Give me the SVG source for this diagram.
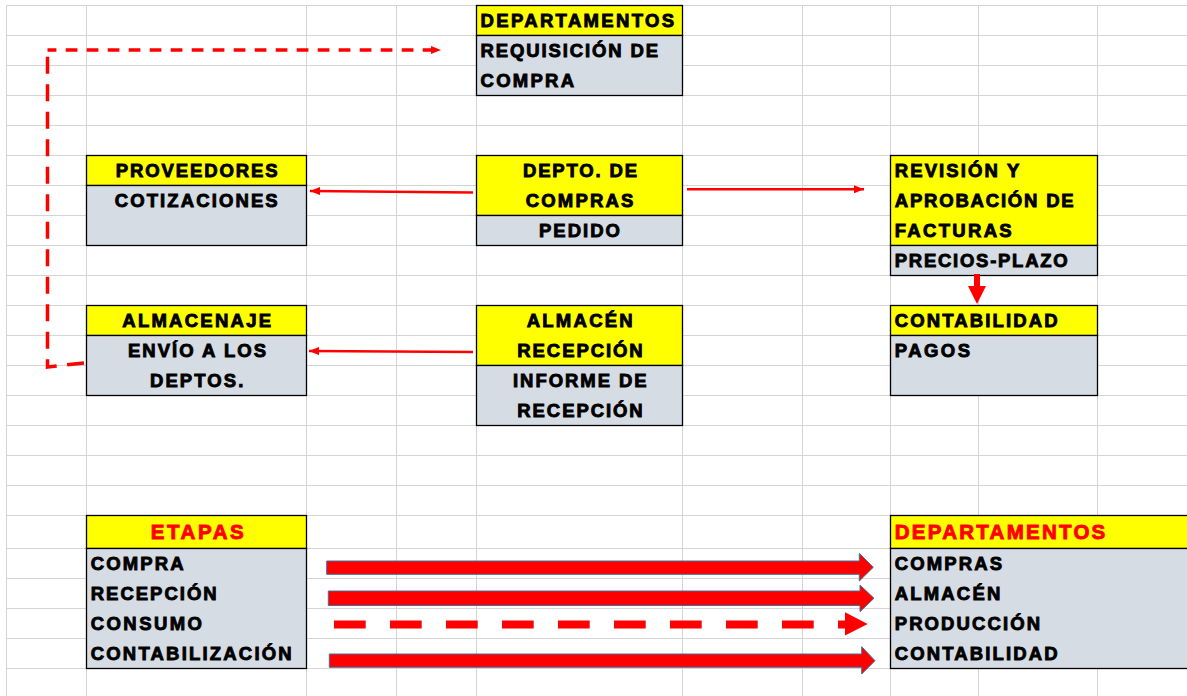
<svg xmlns="http://www.w3.org/2000/svg" width="1187" height="696" viewBox="0 0 1187 696">
<style>
.grid line{stroke:#d4d4d4;stroke-width:1}
.hdr{fill:#ffff00;stroke:#000;stroke-width:1.3}
.body{fill:#d6dce4;stroke:#000;stroke-width:1.3}
.t{font-family:"Liberation Sans",Arial,sans-serif;font-weight:bold;font-size:18.5px;fill:#000;stroke:#000;stroke-width:0.9}
.tr{font-family:"Liberation Sans",Arial,sans-serif;font-weight:bold;font-size:20.5px;fill:#ff0000;stroke:#ff0000;stroke-width:0.9}
.thin{fill:none;stroke:#ff0000;stroke-width:2.5}
.dash{fill:none;stroke:#ff0000;stroke-width:3.5}
.block{fill:#ff0000;stroke:#41719c;stroke-width:1}
</style>
<defs>
<marker id="ah" markerUnits="userSpaceOnUse" markerWidth="10" markerHeight="8" viewBox="0 0 10 8" refX="10" refY="4" orient="auto"><path d="M0,0 L10,4 L0,8 z" fill="#ff0000"/></marker>
</defs>
<rect width="1187" height="696" fill="#ffffff"/>
<g class="grid">
<line x1="6.5" y1="5.5" x2="6.5" y2="696"/><line x1="86.5" y1="5.5" x2="86.5" y2="696"/><line x1="306.5" y1="5.5" x2="306.5" y2="696"/><line x1="396.5" y1="5.5" x2="396.5" y2="696"/><line x1="476.5" y1="5.5" x2="476.5" y2="696"/><line x1="682.5" y1="5.5" x2="682.5" y2="696"/><line x1="802.5" y1="5.5" x2="802.5" y2="696"/><line x1="890.5" y1="5.5" x2="890.5" y2="696"/><line x1="978.5" y1="5.5" x2="978.5" y2="696"/><line x1="1097.5" y1="5.5" x2="1097.5" y2="696"/>
<line x1="6.5" y1="5.5" x2="1187" y2="5.5"/><line x1="6.5" y1="35.5" x2="1187" y2="35.5"/><line x1="6.5" y1="65.5" x2="1187" y2="65.5"/><line x1="6.5" y1="95.5" x2="1187" y2="95.5"/><line x1="6.5" y1="125.5" x2="1187" y2="125.5"/><line x1="6.5" y1="155.5" x2="1187" y2="155.5"/><line x1="6.5" y1="185.5" x2="1187" y2="185.5"/><line x1="6.5" y1="215.5" x2="1187" y2="215.5"/><line x1="6.5" y1="245.5" x2="1187" y2="245.5"/><line x1="6.5" y1="275.5" x2="1187" y2="275.5"/><line x1="6.5" y1="305.5" x2="1187" y2="305.5"/><line x1="6.5" y1="335.5" x2="1187" y2="335.5"/><line x1="6.5" y1="365.5" x2="1187" y2="365.5"/><line x1="6.5" y1="395.5" x2="1187" y2="395.5"/><line x1="6.5" y1="425.5" x2="1187" y2="425.5"/><line x1="6.5" y1="455.5" x2="1187" y2="455.5"/><line x1="6.5" y1="485.5" x2="1187" y2="485.5"/><line x1="6.5" y1="515.5" x2="1187" y2="515.5"/><line x1="6.5" y1="548.5" x2="1187" y2="548.5"/><line x1="6.5" y1="578.5" x2="1187" y2="578.5"/><line x1="6.5" y1="608.5" x2="1187" y2="608.5"/><line x1="6.5" y1="638.5" x2="1187" y2="638.5"/><line x1="6.5" y1="668.5" x2="1187" y2="668.5"/>
</g>
<g id="node-departamentos-top">
<rect class="hdr" x="476.5" y="5.5" width="206" height="30"/>
<rect class="body" x="476.5" y="35.5" width="206" height="60"/>
<text class="t" x="480.5" y="26.5" textLength="193.6">DEPARTAMENTOS</text>
<text class="t" x="480.5" y="56.5" textLength="177.6">REQUISICIÓN DE</text>
<text class="t" x="480.5" y="86.5" textLength="93.6">COMPRA</text>
</g>
<g id="node-proveedores">
<rect class="hdr" x="86.5" y="155.5" width="220" height="30"/>
<rect class="body" x="86.5" y="185.5" width="220" height="60"/>
<text class="t" x="115.7" y="176.5" textLength="162">PROVEEDORES</text>
<text class="t" x="114.7" y="206.5" textLength="163">COTIZACIONES</text>
</g>
<g id="node-depto-compras">
<rect class="hdr" x="476.5" y="155.5" width="206" height="60"/>
<rect class="body" x="476.5" y="215.5" width="206" height="30"/>
<text class="t" x="523" y="176.5" textLength="114">DEPTO. DE</text>
<text class="t" x="525.7" y="206.5" textLength="107.6">COMPRAS</text>
<text class="t" x="539" y="236.5" textLength="81">PEDIDO</text>
</g>
<g id="node-revision">
<rect class="hdr" x="890.5" y="155.5" width="207" height="90"/>
<rect class="body" x="890.5" y="245.5" width="207" height="30"/>
<text class="t" x="894.7" y="176.5" textLength="124.6">REVISIÓN Y</text>
<text class="t" x="894.7" y="206.5" textLength="179">APROBACIÓN DE</text>
<text class="t" x="894.7" y="236.5" textLength="117">FACTURAS</text>
<text class="t" x="894.7" y="266.5" textLength="173">PRECIOS-PLAZO</text>
</g>
<g id="node-contabilidad">
<rect class="hdr" x="890.5" y="305.5" width="207" height="30"/>
<rect class="body" x="890.5" y="335.5" width="207" height="60"/>
<text class="t" x="894.7" y="326.5" textLength="163">CONTABILIDAD</text>
<text class="t" x="894.7" y="356.5" textLength="75.3">PAGOS</text>
</g>
<g id="node-almacenaje">
<rect class="hdr" x="86.5" y="305.5" width="220" height="30"/>
<rect class="body" x="86.5" y="335.5" width="220" height="60"/>
<text class="t" x="122.3" y="326.5" textLength="148.7">ALMACENAJE</text>
<text class="t" x="128" y="356.5" textLength="138">ENVÍO A LOS</text>
<text class="t" x="150" y="386.5" textLength="93.3">DEPTOS.</text>
</g>
<g id="node-almacen-recepcion">
<rect class="hdr" x="476.5" y="305.5" width="206" height="60"/>
<rect class="body" x="476.5" y="365.5" width="206" height="60"/>
<text class="t" x="526.7" y="326.5" textLength="106">ALMACÉN</text>
<text class="t" x="517.3" y="356.5" textLength="125.4">RECEPCIÓN</text>
<text class="t" x="513" y="386.5" textLength="133.7">INFORME DE</text>
<text class="t" x="517.3" y="416.5" textLength="125.4">RECEPCIÓN</text>
</g>
<g id="node-etapas">
<rect class="hdr" x="86.5" y="515.5" width="220" height="33"/>
<rect class="body" x="86.5" y="548.5" width="220" height="120"/>
<text class="tr" x="150.7" y="539" textLength="93">ETAPAS</text>
<text class="t" x="90.7" y="569.5" textLength="93">COMPRA</text>
<text class="t" x="90.7" y="599.5" textLength="126">RECEPCIÓN</text>
<text class="t" x="90.7" y="629.5" textLength="111.3">CONSUMO</text>
<text class="t" x="90.7" y="659.5" textLength="201">CONTABILIZACIÓN</text>
</g>
<g id="node-departamentos-bottom">
<rect class="hdr" x="890.5" y="515.5" width="310" height="33"/>
<rect class="body" x="890.5" y="548.5" width="310" height="120"/>
<text class="tr" x="894.7" y="539" textLength="210.6">DEPARTAMENTOS</text>
<text class="t" x="894.7" y="569.5" textLength="107.3">COMPRAS</text>
<text class="t" x="894.7" y="599.5" textLength="105.6">ALMACÉN</text>
<text class="t" x="894.7" y="629.5" textLength="145.3">PRODUCCIÓN</text>
<text class="t" x="894.7" y="659.5" textLength="163">CONTABILIDAD</text>
</g>
<g id="connectors">
<path class="dash" d="M84 363 L47.5 367 L47.5 50" stroke-dasharray="17 10.5"/>
<path class="dash" d="M47.5 50 L441 50" stroke-dasharray="11.7 9.3" stroke-dashoffset="2.8" marker-end="url(#ah)"/>
<path class="thin" d="M473 192.5 L310 191" marker-end="url(#ah)"/>
<path class="thin" d="M687 189.3 L864 189.3" marker-end="url(#ah)"/>
<path class="thin" d="M473 352 L309 351" marker-end="url(#ah)"/>
<path d="M974 274 L980 274 L980 286 L986 286 L977 304 L968 286 L974 286 z" fill="#ff0000"/>
<polygon class="block" points="326.7,561 859.3,561 859.3,553.3 873.3,567.3 859.3,581 859.3,574.3 326.7,574.3"/>
<polygon class="block" points="328.3,591 860,591 860,585 874,598.3 860,611.7 860,605.5 328.3,605.5"/>
<path d="M334 624.5 L846 624.5" fill="none" stroke="#ff0000" stroke-width="8" stroke-dasharray="31.7 24.3"/>
<polygon points="845,612.3 867.7,624 845,635.5" fill="#ff0000"/>
<polygon class="block" points="329.3,654 861.7,654 861.7,646.7 875,660.7 861.7,674 861.7,667.3 329.3,667.3"/>
</g>
</svg>
